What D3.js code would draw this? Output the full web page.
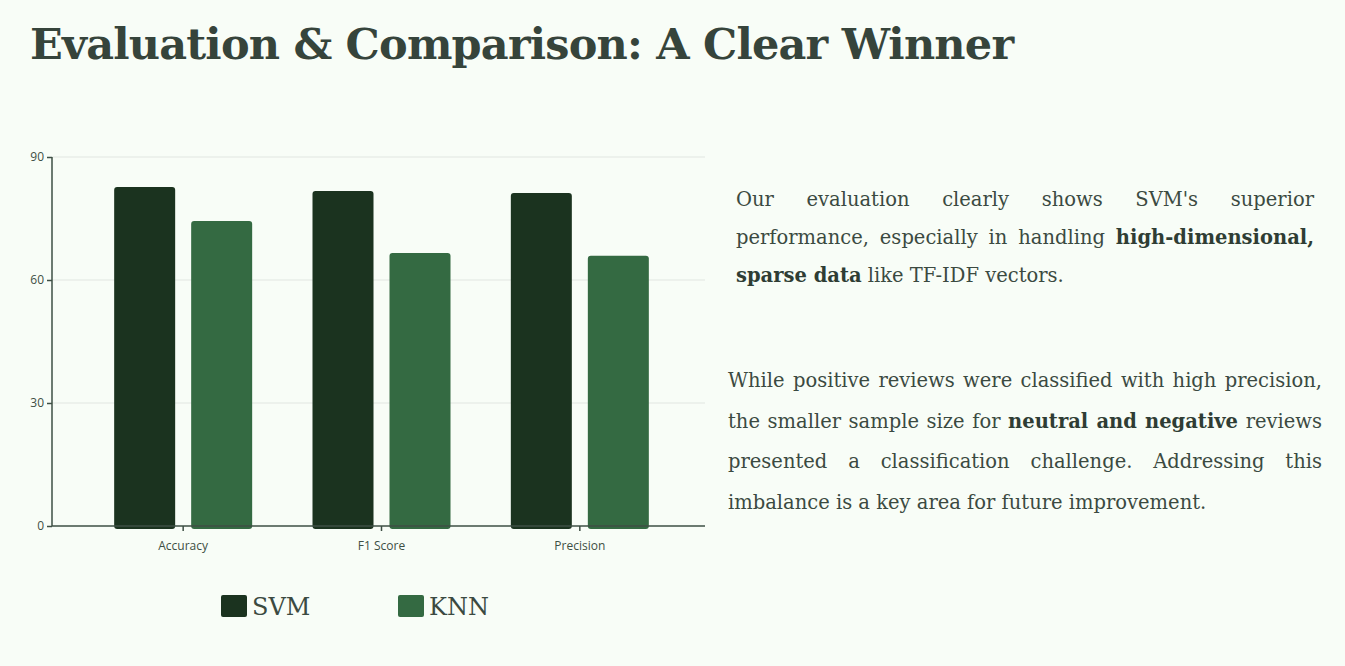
<!DOCTYPE html>
<html>
<head>
<meta charset="utf-8">
<script src="https://cdn.jsdelivr.net/npm/d3@7"></script>
<style>
body { margin:0; background:#f8fdf7; width:1345px; height:666px; overflow:hidden; font-family:"DejaVu Serif", serif; color:#3b4a41; }
h1 { position:absolute; left:30px; top:19px; margin:0; font-size:43px; font-weight:bold; letter-spacing:-0.8px; color:#36443b; }
.p { position:absolute; text-align:justify; font-family:"DejaVu Serif", serif; font-size:19.5px; }
.p b { color:#2f3d34; }
</style>
</head>
<body>
<h1>Evaluation &amp; Comparison: A Clear Winner</h1>
<div class="p" style="left:736px;top:181px;width:578px;line-height:38px;">Our evaluation clearly shows SVM's superior performance, especially in handling <b>high-dimensional, sparse data</b> like TF-IDF vectors.</div>
<div class="p" style="left:728px;top:361px;width:594px;line-height:40.5px;">While positive reviews were classified with high precision, the smaller sample size for <b>neutral and negative</b> reviews presented a classification challenge. Addressing this imbalance is a key area for future improvement.</div>
<svg id="chart" width="720" height="666" style="position:absolute;left:0;top:0"></svg>
<script>
/* data */
var categories = ["Accuracy", "F1 Score", "Precision"];
var svm = [82.7, 81.7, 81.2];
var knn = [74.4, 66.6, 65.9];
var series = ["SVM", "KNN"];
var colors = ["#1b331f", "#346a42"];
var yTicks = [0, 30, 60, 90];

(function() {
var svg = d3.select("#chart");
var mLeft = 52, mRight = 705, mTop = 157, mBottom = 526;

var x = d3.scaleBand().domain(categories).range([84, 679]);
var y = d3.scaleLinear().domain([0, 90]).range([mBottom, mTop]);

/* grid */
svg.append("g").selectAll("line").data(yTicks.filter(function(d){ return d > 0; }))
    .enter().append("line")
    .attr("x1", mLeft).attr("x2", mRight)
    .attr("y1", function(d){ return y(d); }).attr("y2", function(d){ return y(d); })
    .attr("stroke", "#e1e6e1").attr("stroke-width", 1);

/* bars */
var bw = 61, gap = 16;
var rows = categories.map(function(c, i){ return {cat:c, vals:[svm[i], knn[i]]}; });
var grp = svg.append("g").selectAll("g").data(rows).enter().append("g");
grp.selectAll("rect").data(function(d){ return d.vals.map(function(v, j){ return {cat:d.cat, v:v, j:j}; }); })
    .enter().append("rect")
    .attr("x", function(d){ var c = x(d.cat) + x.bandwidth()/2; return d.j === 0 ? c - gap/2 - bw : c + gap/2; })
    .attr("y", function(d){ return y(d.v); })
    .attr("width", bw)
    .attr("height", function(d){ return mBottom - y(d.v) + 3; })
    .attr("rx", 3)
    .attr("fill", function(d){ return colors[d.j]; });

/* axes */
var yAxis = svg.append("g").attr("transform", "translate(" + mLeft + ",0)")
    .call(d3.axisLeft(y).tickValues(yTicks).tickSize(5));
var xAxis = svg.append("g").attr("transform", "translate(0," + mBottom + ")")
    .call(d3.axisBottom(x).tickSize(5).tickSizeOuter(0));
xAxis.select(".domain").attr("d", "M" + mLeft + ",0H" + mRight);
yAxis.select(".domain").attr("d", "M0," + mTop + "V" + mBottom);
[xAxis, yAxis].forEach(function(a){
    a.selectAll("path,line").attr("stroke", "#3e4f44").attr("stroke-width", 1.5);
    a.selectAll("text").attr("fill", "#3e4f44").attr("font-family", "Open Sans, sans-serif").attr("font-size", 12);
});
xAxis.selectAll("text").attr("dy", "1.3em");

/* legend */
var lg = svg.append("g").selectAll("g").data(series).enter().append("g")
    .attr("transform", function(d, i){ return "translate(" + (221 + i * 177) + ",595)"; });
lg.append("rect").attr("width", 26).attr("height", 22).attr("rx", 2)
    .attr("fill", function(d, i){ return colors[i]; });
lg.append("text").attr("x", 31).attr("y", 20).text(function(d){ return d; })
    .attr("font-family", "DejaVu Serif, serif").attr("font-size", 24).attr("fill", "#3b4a41");
})();
</script>
</body>
</html>
